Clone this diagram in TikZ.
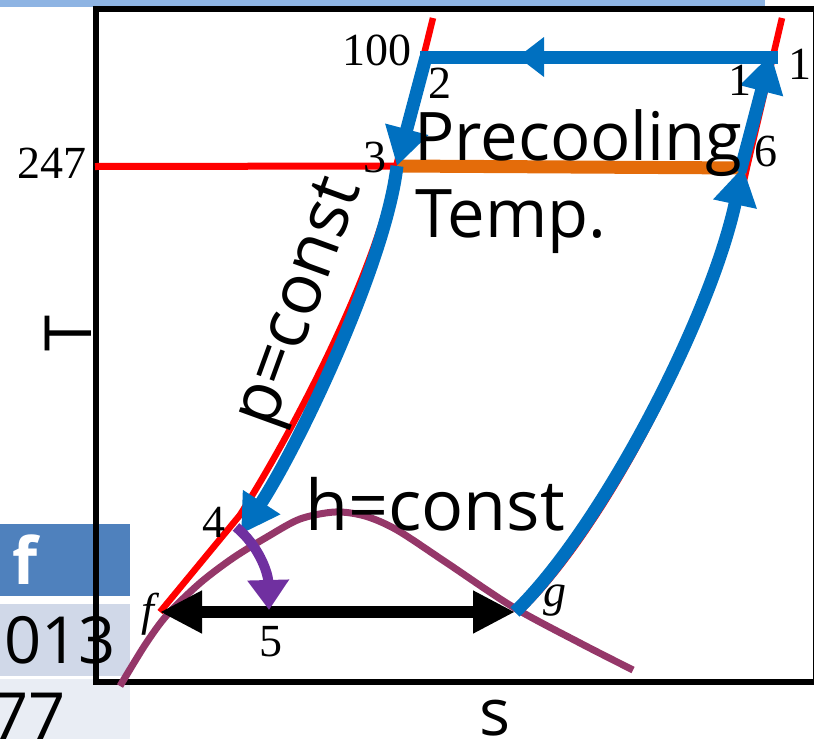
\documentclass[tikz,border=0pt]{standalone}
\usepackage{fontspec}
\setmainfont{Liberation Serif}
\newfontfamily\os{Open Sans}
\usetikzlibrary{arrows.meta}
\definecolor{cblue}{RGB}{0,112,192}
\definecolor{cred}{RGB}{255,0,0}
\definecolor{corange}{RGB}{228,108,10}
\definecolor{cpurple}{RGB}{112,48,160}
\definecolor{cmaroon}{RGB}{149,55,105}
\definecolor{cbar}{RGB}{142,180,227}
\definecolor{thead}{RGB}{79,129,189}
\definecolor{trowa}{RGB}{208,216,232}
\definecolor{trowb}{RGB}{233,237,244}
\tikzset{
  num/.style={inner sep=0pt, font=\fontsize{46}{50}\selectfont},
  big/.style={inner sep=0pt, font=\os\fontsize{65}{70}\selectfont},
  mid/.style={inner sep=0pt, font=\os\fontsize{67}{72}\selectfont},
  bigger/.style={inner sep=0pt, font=\os\fontsize{70}{76}\selectfont},
  bluepath/.style={draw=cblue, line width=13pt},
  bluehead/.style={-{Triangle[length=38pt,width=42pt]}},
  redline/.style={draw=cred, line width=6.5pt},
}
\begin{document}
\begin{tikzpicture}[x=1pt,y=-1pt]
\useasboundingbox (0,0) rectangle (814,739);
\clip (0,0) rectangle (814,739);
% table fragments
\fill[thead] (0,524) rectangle (130,596);
\fill[trowa] (0,604) rectangle (130,676);
\fill[trowb] (0,679) rectangle (130,745);
\node[big, text=white, font=\os\bfseries\fontsize{65}{70}\selectfont] (tf) at (25,560) {f};
\node[big, anchor=east] (t013) at (116,640) {013};
\node[big, anchor=base east] (t77) at (66,739) {77};
% top bar
\fill[cbar] (0,0) rectangle (765,7);
% frame
\draw[line width=6pt] (95.5,9) rectangle (816,681.5);
% coordinates
\coordinate (p1) at (771,54);
\coordinate (p2) at (426,57);
\coordinate (p3) at (397,166);
\coordinate (p4) at (241,534);
\coordinate (p4s) at (236,527);
\coordinate (p5) at (269,610);
\coordinate (p6) at (743,167);
\coordinate (pf) at (160,612);
\coordinate (pg) at (515,612);
\coordinate (t247) at (95,166.5);
\coordinate (mid12) at (518,57);
% red 247 line
\draw[redline, line width=7pt] (t247) -- (p3);
% red saturation lines
\draw[redline] (433,18) -- (396,167) .. controls (380,262) and (300,420) .. (240,515) -- (pf);
\draw[redline] (519,612) .. controls (604,532) and (714,322) .. (747,167) -- (782,18);
% orange precooling line
\draw[corange, line width=13pt] (p3) -- (746,168);
% h = const curve
\draw[cmaroon, line width=7pt] plot[smooth] coordinates {(120,686) (145,645) (167,615) (200,583) (233,558) (267,537) (300,519) (335,512) (365,516) (397,530) (447,563) (513,607) (580,643) (633,670)};
% black double arrow
\draw[line width=12pt, {Triangle[length=42pt,width=40pt]}-{Triangle[length=42pt,width=40pt]}] (pf) -- (pg);
% blue cycle
\draw[bluepath, line cap=rect] (p1 |- p2) -- (p2);
\fill[cblue] (mid12) -- ++(26,-20) -- ++(0,40) -- cycle;
\draw[bluepath, bluehead] (p2) -- (p3);
\draw[bluepath, bluehead] (p3) .. controls (386,260) and (302,440) .. (p4);
\draw[bluepath, bluehead] (pg) .. controls (600,530) and (710,320) .. (p6);
\draw[bluepath, bluehead] (740,172) .. controls (750,135) and (763,85) .. (p1);
% purple throttling arrow
\draw[cpurple, line width=10pt, -{Triangle[length=30pt,width=40pt]}] (p4s) .. controls (258,545) and (268,572) .. (p5);
% labels
\node[num] (l100) at (377,50) {100};
\node[num] (l2) at (440,83) {2};
\node[num] (l1a) at (740,80) {1};
\node[num] (l1b) at (800,64) {1};
\node[num] (l6) at (766,151) {6};
\node[num] (l3) at (375,157) {3};
\node[num] (l247) at (52,163) {247};
\node[num] (l4) at (214,522) {4};
\node[num] (l5) at (271,642) {5};
\node[num] (lf) at (148,614) {\itshape f};
\node[num] (lg) at (555,601) {\itshape g};
\node[mid, anchor=base west] (pre) at (414,160) {Precooling};
\node[mid, anchor=base west] (temp) at (415,237) {Temp.};
\node[bigger, anchor=base west] (hc) at (305,530) {h=const};
\node[bigger, rotate=70] (pc) at (303,304) {p=const};
\node[big, anchor=base] (sl) at (495,735) {s};
\node[big, rotate=90, anchor=base] (Tl) at (91,334) {T};
\end{tikzpicture}
\end{document}
